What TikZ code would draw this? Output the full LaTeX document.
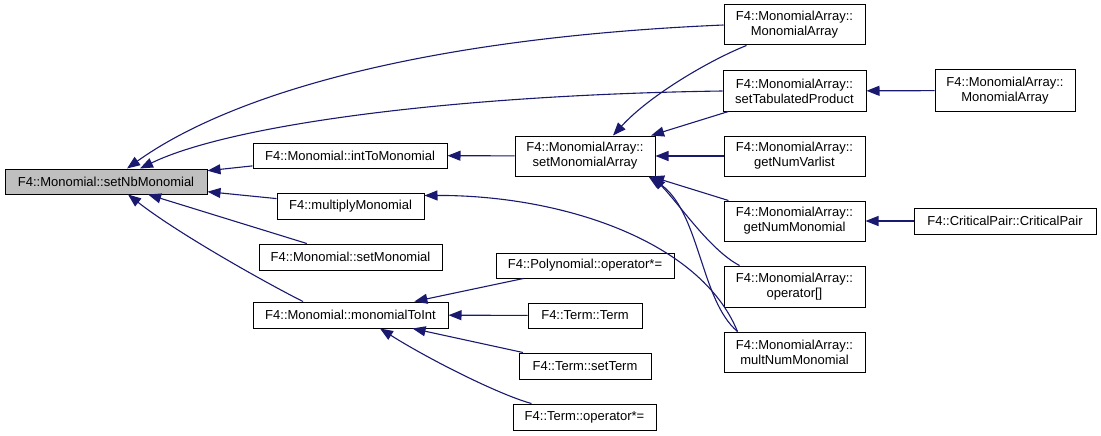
\documentclass[tikz,border=0pt]{standalone}
\usepackage{fontspec}
\setmainfont{Liberation Sans}
\usetikzlibrary{arrows.meta}
\definecolor{edgeblue}{HTML}{191970}
\definecolor{rootgray}{HTML}{BFBFBF}

\begin{document}
\begin{tikzpicture}[
      x=1pt, y=-1pt, >={Triangle[length=13pt, width=10pt]},
      fn/.style={draw, rectangle, inner sep=0pt, line width=1pt, align=center,
        font=\fontsize{13}{15}\selectfont},
      edge/.style={->, draw=edgeblue, line width=1.1pt}]

      \useasboundingbox (0,0) rectangle (1101,436);

      \node[fn, fill=rootgray, minimum width=202pt, minimum height=25pt] (setNb) at (106,181.5) {F4::Monomial::setNbMonomial};
      \foreach \name/\x/\y/\w/\h/\lab in {
          intToMono/350/155.5/194/25/{F4::Monomial::intToMonomial},
          multiplyMono/350.5/206/147/26/{F4::multiplyMonomial},
          setMono/350.5/257/183/26/{F4::Monomial::setMonomial},
          monoToInt/350.5/315/195/26/{F4::Monomial::monomialToInt},
          setMA/585/156/140/40/{F4::MonomialArray::\\setMonomialArray},
          polyOp/585/265.5/178/25/{F4::Polynomial::operator*=},
          termCtor/585/315.5/114/25/{F4::Term::Term},
          setTerm/585/366/132/26/{F4::Term::setTerm},
          termOp/584.5/417/143/26/{F4::Term::operator*=},
          maCtor/794.5/25/141/40/{F4::MonomialArray::\\MonomialArray},
          setTab/794.5/91/143/40/{F4::MonomialArray::\\setTabulatedProduct},
          getNumVar/794.5/156/141/40/{F4::MonomialArray::\\getNumVarlist},
          getNumMono/794.5/221/141/40/{F4::MonomialArray::\\getNumMonomial},
          opIndex/794.5/286.5/141/41/{F4::MonomialArray::\\operator[]},
          multNum/794.5/352/141/40/{F4::MonomialArray::\\multNumMonomial},
          maCtorB/1005/90.5/140/41/{F4::MonomialArray::\\MonomialArray},
          critPair/1005/221/182/26/{F4::CriticalPair::CriticalPair}}{
        \node[fn, minimum width=\w pt, minimum height=\h pt] (\name) at (\x,\y) {\lab};
      }

      % straight edges
      \foreach \a/\b in {intToMono/setNb, multiplyMono/setNb, setMono/setNb,
          setMA/intToMono, setTab/setMA, getNumVar/setMA, getNumMono/setMA,
          maCtorB/setTab, critPair/getNumMono,
          polyOp/monoToInt, termCtor/monoToInt, setTerm/monoToInt}{
        \draw[edge] (\a) -- (\b);
      }
      % curved edges
      \draw[edge] (maCtor.west) .. controls (420,38) and (230,95) .. ([xshift=21pt]setNb.north);
      \draw[edge] (setTab.west) .. controls (450,95) and (230,125) .. ([xshift=34pt]setNb.north);
      \draw[edge] ([xshift=-47.5pt]monoToInt.north) .. controls (270,285) and (180,235) .. ([xshift=22pt]setNb.south);
      \draw[edge] ([xshift=14pt]multNum.north west) .. controls (700,240) and (560,195) .. ([yshift=-3pt]multiplyMono.north east);
      \draw[edge] ([xshift=23pt]maCtor.south west) .. controls (710,60) and (650,95) .. ([xshift=28pt]setMA.north);
      \draw[edge] ([xshift=16pt]opIndex.north west) .. controls (710,250) and (680,205) .. ([xshift=-3pt]setMA.south east);
      \draw[edge] ([xshift=14pt]multNum.north west) .. controls (700,300) and (700,210) .. ([xshift=-7pt]setMA.south east);
      \draw[edge] ([xshift=19pt]termOp.north west) .. controls (500,395) and (430,360) .. ([xshift=29.5pt]monoToInt.south);
    \end{tikzpicture}
\end{document}
